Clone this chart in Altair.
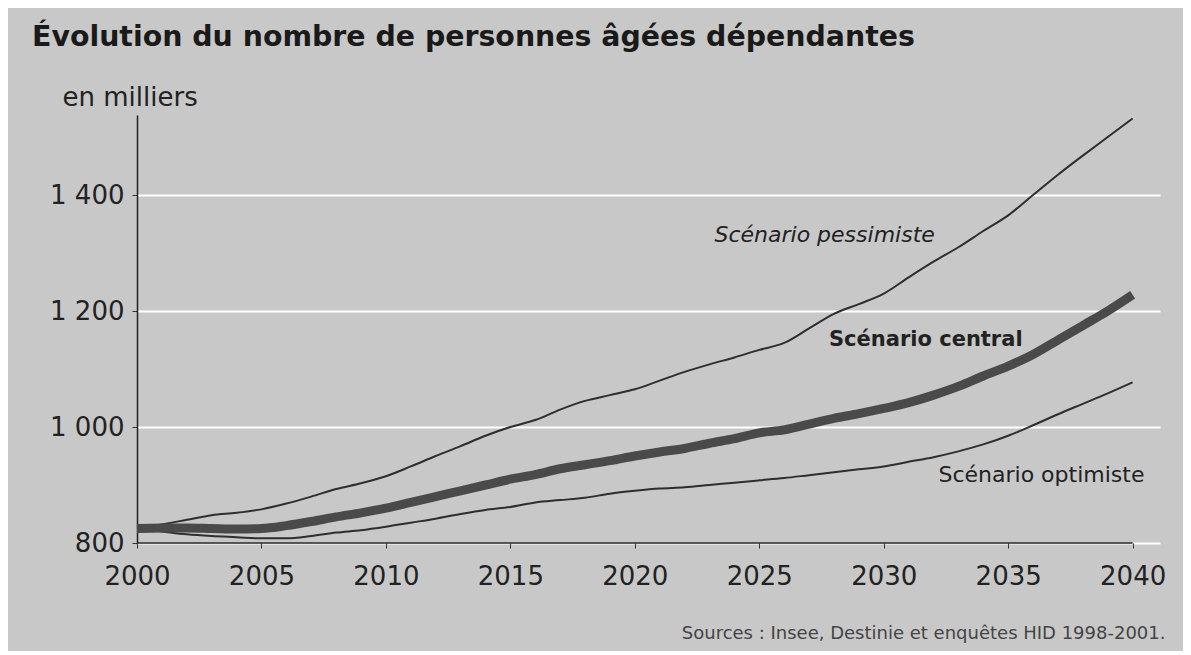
import altair as alt
import pandas as pd

years = list(range(2000, 2041))
pessimiste = [825, 832, 840, 848, 852, 858, 868, 880, 893, 903, 915, 932, 950, 967, 985, 1000,
              1012, 1030, 1045, 1055, 1065, 1080, 1095, 1108, 1120, 1133, 1145, 1170, 1195, 1212,
              1230, 1258, 1285, 1310, 1338, 1365, 1400, 1435, 1468, 1500, 1532]
central = [825, 826, 826, 825, 824, 825, 830, 837, 845, 852, 860, 870, 880, 890, 900, 910,
           918, 928, 935, 942, 950, 957, 963, 972, 980, 990, 995, 1005, 1015, 1023,
           1032, 1042, 1055, 1070, 1088, 1105, 1125, 1150, 1175, 1200, 1228]
optimiste = [825, 820, 815, 812, 810, 808, 808, 812, 818, 822, 828, 835, 842, 850, 857, 862,
             870, 874, 878, 885, 890, 894, 896, 900, 904, 908, 912, 917, 922, 927,
             932, 940, 948, 958, 970, 985, 1003, 1022, 1040, 1058, 1077]

label_text = ["Scénario pessimiste", "Scénario central", "Scénario optimiste"]
label_year = [2023.2, 2027.8, 2032.2]
label_value = [1331, 1150, 917]
label_style = ["italic", "normal", "normal"]
label_weight = ["normal", "bold", "normal"]
label_size = [22, 21, 22]

x_ticks = list(range(2000, 2041, 5))
y_ticks = [800, 1000, 1200, 1400]

rows = []
for s, vals in [("pessimiste", pessimiste), ("central", central), ("optimiste", optimiste)]:
    for y, v in zip(years, vals):
        rows.append({"annee": y, "valeur": v, "scenario": s})
df = pd.DataFrame(rows)
labels = pd.DataFrame({"texte": label_text, "annee": label_year, "valeur": label_value})
axis_df = pd.DataFrame({"a0": [years[0]], "a1": [years[-1]], "v": [y_ticks[0]]})

FONT = "DejaVu Sans"
xs = alt.Scale(domain=[2000, 2041.1], nice=False, zero=False)
ys = alt.Scale(domain=[800, 1538], nice=False, zero=False)

x_enc = alt.X("annee:Q", scale=xs, axis=alt.Axis(
    values=x_ticks, format="d", grid=False, domain=False, tickColor="#333", tickSize=5,
    labelFont=FONT, labelFontSize=26, labelColor="#222", labelPadding=15,
    labelFlush=False, labelOverlap=False,
    title="Sources : Insee, Destinie et enquêtes HID 1998-2001.",
    titleFont=FONT, titleFontSize=18, titleFontWeight="normal", titleColor="#444",
    titleX=1028, titleY=90, titleAlign="right", titleBaseline="middle", titleAnchor="end"))
y_enc = alt.Y("valeur:Q", scale=ys, axis=alt.Axis(
    values=y_ticks, grid=True, gridColor="white", gridWidth=2, domainColor="#222",
    domainWidth=1.5, tickColor="#333", tickSize=5, labelFlush=False, labelOverlap=False,
    labelExpr="replace(format(datum.value, 'd'), /(\\d)(\\d{3})$/, '$1 $2')",
    labelFont=FONT, labelFontSize=26, labelColor="#222", labelPadding=8,
    title="en milliers", titleFont=FONT, titleFontSize=26, titleFontWeight="normal",
    titleColor="#222", titleAngle=0, titleX=-75, titleY=-18, titleAlign="left",
    titleBaseline="middle"))

base = alt.Chart(df)
thin = base.transform_filter("datum.scenario != 'central'").mark_line(
    color="#2e2e2e", strokeWidth=2, interpolate="monotone").encode(
    x=x_enc, y=y_enc, detail="scenario:N")
thick = base.transform_filter("datum.scenario == 'central'").mark_line(
    color="#4a4a4a", strokeWidth=9, interpolate="monotone").encode(x="annee:Q", y="valeur:Q")
xaxis_line = alt.Chart(axis_df).mark_rule(color="#222", strokeWidth=1.5).encode(
    x="a0:Q", x2="a1:Q", y="v:Q")

txt_layers = []
for i in range(len(label_text)):
    txt_layers.append(
        alt.Chart(labels).transform_filter(alt.datum.texte == label_text[i]).mark_text(
            align="left", baseline="middle", font=FONT, color="#222", fontSize=label_size[i],
            fontStyle=label_style[i], fontWeight=label_weight[i]).encode(
            x="annee:Q", y="valeur:Q", text="texte:N"))

chart = alt.layer(thin, thick, xaxis_line, *txt_layers).properties(
    width=1023, height=428,
    autosize=alt.AutoSizeParams(type="none"),
    padding={"left": 129, "top": 107, "right": 23, "bottom": 108},
    background="#c8c8c8",
    title=alt.TitleParams("Évolution du nombre de personnes âgées dépendantes",
                          anchor="start", frame="group", dx=-105, dy=18, offset=50,
                          font=FONT, fontSize=28.4, fontWeight="bold", color="#1a1a1a"),
).configure_view(stroke=None)

chart.save("out.html", embed_options={"renderer": "svg", "actions": False})
